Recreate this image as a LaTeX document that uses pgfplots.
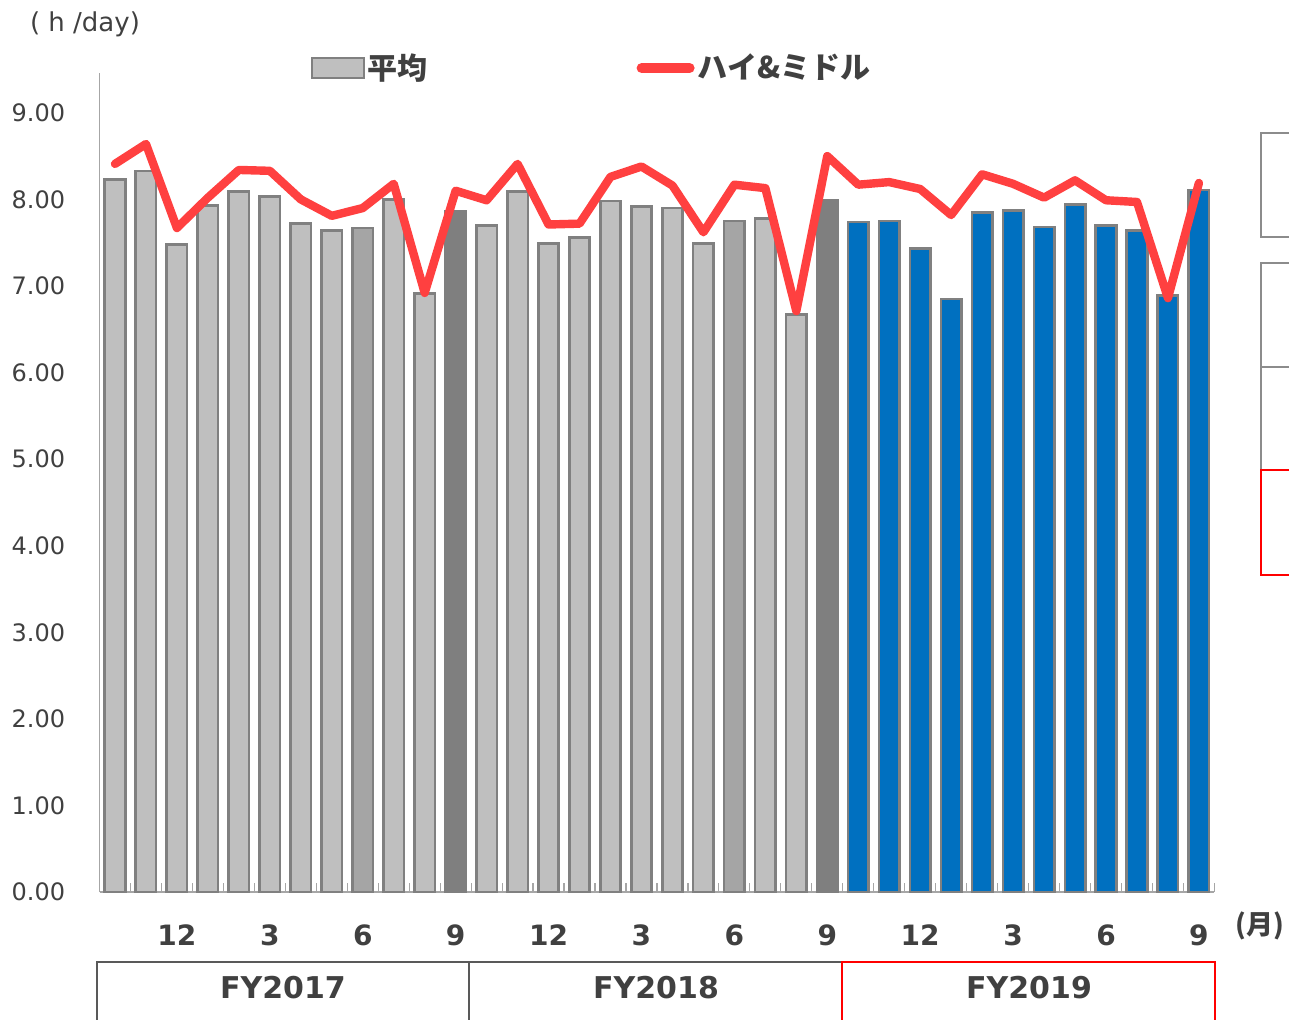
\documentclass[border=0pt]{standalone}
\usepackage{fontspec}
\setmainfont{DejaVu Sans}
\newfontfamily\cjk{Noto Sans CJK JP}
\usepackage{pgfplots}
\pgfplotsset{compat=1.18}
\definecolor{lg}{HTML}{BFBFBF}
\definecolor{mg}{HTML}{A5A5A5}
\definecolor{dg}{HTML}{7F7F7F}
\definecolor{bl}{HTML}{0070C0}
\definecolor{edge}{HTML}{808080}
\definecolor{redl}{HTML}{FF4040}
\definecolor{txt}{HTML}{404040}
\definecolor{axg}{HTML}{A6A6A6}
\definecolor{boxg}{HTML}{595959}
\definecolor{sideg}{HTML}{8C8C8C}
\begin{document}
\begin{tikzpicture}
\useasboundingbox (0pt,0pt) rectangle (644.5pt,509.5pt);
\begin{axis}[
  at={(49.75pt,63.5pt)}, anchor=south west,
  scale only axis, width=557.45pt, height=409.5pt,
  xmin=-0.5, xmax=35.5, ymin=0, ymax=9.46,
  clip=false,
  axis x line*=bottom, axis y line*=left,
  axis line style={draw=axg, line width=0.8pt, -},
  ytick={0,1,...,9},
  ytick style={draw=none},
  yticklabel style={font=\fontsize{12}{14}\selectfont, text=txt, inner sep=0pt, xshift=-17pt},
  /pgf/number format/.cd, fixed, fixed zerofill, precision=2, assume math mode=true,
  /pgfplots/.cd,
  xtick={2,5,8,11,14,17,20,23,26,29,32,35},
  xticklabels={12,3,6,9,12,3,6,9,12,3,6,9},
  xticklabel style={font=\bfseries\fontsize{14}{16}\selectfont, text=txt, inner sep=0pt, anchor=north, yshift=-16pt},
  major x tick style={draw=none},
  minor xtick={-0.5,0.5,...,35.5},
  minor tick length=4.5pt,
  tick align=inside,
  minor x tick style={draw=axg, line width=0.6pt},
  legend columns=2,
  legend style={at={(0.189,1.006)}, anchor=west, draw=none, fill=none, inner sep=0pt,
    font=\cjk\bfseries\fontsize{15}{17}\selectfont, text=txt,
    /tikz/every even column/.append style={column sep=103pt},
    nodes={inner xsep=1.5pt}},
]
\addplot[ybar, bar width=0.66, bar shift=0pt, fill=lg, draw=edge, line width=1.3pt,
  legend image code/.code={\draw[fill=lg, draw=edge, line width=1pt] (0pt,-5pt) rectangle (26pt,5pt);}]
  coordinates {(0,8.23) (1,8.33) (2,7.48) (3,7.93) (4,8.09) (5,8.03) (6,7.72) (7,7.64)
  (9,8.00) (10,6.91) (12,7.70) (13,8.09) (14,7.49) (15,7.56) (16,7.98) (17,7.92) (18,7.90) (19,7.49)
  (21,7.78) (22,6.67)};
\addlegendentry{平均}
\addplot[forget plot, ybar, bar width=0.66, bar shift=0pt, fill=mg, draw=edge, line width=1.3pt]
  coordinates {(8,7.67) (20,7.75)};
\addplot[forget plot, ybar, bar width=0.66, bar shift=0pt, fill=dg, draw=dg, line width=1.3pt]
  coordinates {(11,7.86) (23,7.99)};
\addplot[forget plot, ybar, bar width=0.66, bar shift=0pt, fill=bl, draw=edge, line width=1.3pt]
  coordinates {(24,7.74) (25,7.75) (26,7.43) (27,6.85) (28,7.85) (29,7.87) (30,7.68) (31,7.94)
  (32,7.70) (33,7.64) (34,6.89) (35,8.11)};
\addplot[sharp plot, draw=redl, line width=4.2pt, line join=round, line cap=round,
  legend image code/.code={\draw[draw=redl, line width=5pt, line cap=round] (2.5pt,0pt) -- (26.5pt,0pt);}]
  coordinates {(0,8.41) (1,8.64) (2,7.67) (3,8.02) (4,8.34) (5,8.33) (6,8.00) (7,7.81) (8,7.90)
  (9,8.18) (10,6.92) (11,8.10) (12,7.99) (13,8.41) (14,7.71) (15,7.72) (16,8.26) (17,8.38)
  (18,8.16) (19,7.62) (20,8.17) (21,8.13) (22,6.71) (23,8.50) (24,8.17) (25,8.20) (26,8.12)
  (27,7.82) (28,8.29) (29,8.18) (30,8.02) (31,8.22) (32,7.99) (33,7.97) (34,6.86) (35,8.19)};
\addlegendentry{ハイ\&ミドル}
\end{axis}
% unit label
\node[text=txt, font=\fontsize{13}{15}\selectfont] at (42.5pt,497.5pt) {( h /day)};
\node[text=txt, font=\cjk\bfseries\fontsize{13.5}{15}\selectfont] at (630pt,46.5pt) {(月)};
% fiscal year boxes
\draw[boxg, line width=1pt] (48.5pt,-5pt) -- (48.5pt,28.5pt) -- (421pt,28.5pt);
\draw[boxg, line width=1pt] (234.5pt,-5pt) -- (234.5pt,28.5pt);
\draw[red, line width=1pt] (421pt,-5pt) -- (421pt,28.5pt) -- (607.5pt,28.5pt) -- (607.5pt,-5pt);
\node[text=txt, font=\bfseries\fontsize{15}{18}\selectfont] at (141.5pt,15.5pt) {FY2017};
\node[text=txt, font=\bfseries\fontsize{15}{18}\selectfont] at (328pt,15.5pt) {FY2018};
\node[text=txt, font=\bfseries\fontsize{15}{18}\selectfont] at (514.5pt,15.5pt) {FY2019};
% side boxes (partly outside)
\draw[sideg, line width=1pt] (660pt,443pt) -- (630.5pt,443pt) -- (630.5pt,391pt) -- (660pt,391pt);
\draw[sideg, line width=1pt] (660pt,378pt) -- (630.5pt,378pt) -- (630.5pt,274.5pt);
\draw[sideg, line width=1pt] (630.5pt,326pt) -- (660pt,326pt);
\draw[red, line width=1pt] (660pt,274.5pt) -- (630.5pt,274.5pt) -- (630.5pt,222pt) -- (660pt,222pt);
\end{tikzpicture}
\end{document}
